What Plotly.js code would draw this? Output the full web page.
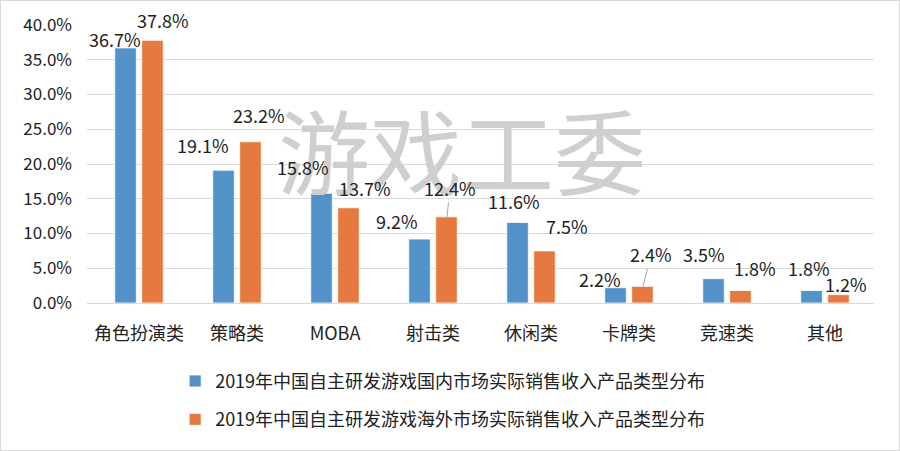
<!DOCTYPE html>
<html>
<head>
<meta charset="utf-8">
<script src="https://cdn.plot.ly/plotly-3.0.1.min.js"></script>
<style>
html,body{margin:0;padding:0;background:#fff;}
#wrap{width:900px;height:451px;box-sizing:border-box;border:1px solid #d9d9d9;}
#chart{width:898px;height:449px;}
</style>
</head>
<body>
<div id="wrap"><div id="chart"></div></div>
<script>
// ---- data ----
const categories = ["角色扮演类","策略类","MOBA","射击类","休闲类","卡牌类","竞速类","其他"];
const domestic = [36.7, 19.1, 15.8, 9.2, 11.6, 2.2, 3.5, 1.8];
const overseas = [37.8, 23.2, 13.7, 12.4, 7.5, 2.4, 1.8, 1.2];
const seriesNames = [
  "2019年中国自主研发游戏国内市场实际销售收入产品类型分布",
  "2019年中国自主研发游戏海外市场实际销售收入产品类型分布"
];
const watermark = "游戏工委";

// ---- label placement styling (pixel offsets from bar top) ----
const domLabelOffX = [-10, -20, -18, -22, -3, -15, -9, -2];
const domLabelOffY = [-9, -25, -26, -18, -21, -9, -25, -22];
const ovsLabelOffX = [10, 8, 16, 3, 22, 8, 14, 7];
const ovsLabelOffY = [-20, -27, -20, -29, -25, -32, -22, -11];
const ovsLeader = [false, false, false, true, false, true, false, false];

const FONT = '"Noto Sans CJK SC", "Noto Sans", sans-serif';
const TXT = '#222222';
const BLUE = '#5292C8';
const ORANGE = '#E5793F';

const traces = [
  {type:'bar', name:seriesNames[0], x:categories, y:domestic,
   marker:{color:BLUE, line:{color:'#ffffff', width:0.8}}, legendgroup:'a', hoverinfo:'skip'},
  {type:'bar', name:seriesNames[1], x:categories, y:overseas,
   marker:{color:ORANGE, line:{color:'#ffffff', width:0.8}}, legendgroup:'b', hoverinfo:'skip'}
];

const annotations = [];
function addLabels(vals, offX, offY, shift, leader){
  vals.forEach((v,i)=>{
    const lead = leader && leader[i];
    annotations.push({
      xref:'x', yref:'y', x:categories[i], y:v, xshift:shift,
      text:v.toFixed(1)+'%', showarrow:true, arrowhead:0, arrowwidth:1,
      arrowcolor: lead ? '#a6a6a6' : 'rgba(0,0,0,0)', standoff:0,
      axref:'pixel', ayref:'pixel', ax:offX[i], ay:offY[i],
      font:{family:FONT, size:18, color:TXT}
    });
  });
}
addLabels(domestic, domLabelOffX, domLabelOffY, -14, null);
addLabels(overseas, ovsLabelOffX, ovsLabelOffY, 14, ovsLeader);

annotations.unshift({
  xref:'paper', yref:'paper', x:0.477, y:0.56, xanchor:'center', yanchor:'middle',
  text:watermark, showarrow:false,
  font:{family:FONT, size:92, color:'#cfcfcf'}
});

const layout = {
  width:898, height:449,
  margin:{l:86, r:25, t:24, b:144},
  paper_bgcolor:'#ffffff', plot_bgcolor:'#ffffff',
  font:{family:FONT, size:17, color:TXT},
  barmode:'group', bargap:0.45, bargroupgap:0.2,
  showlegend:true,
  legend:{orientation:'v', x:0.112, xanchor:'left', y:-0.215, yanchor:'top',
          font:{family:FONT, size:18, color:TXT}, itemwidth:30,
          traceorder:'grouped', tracegroupgap:12, bgcolor:'rgba(0,0,0,0)'},
  xaxis:{type:'category', showgrid:false, showline:true, linecolor:'#d9d9d9', linewidth:1,
         ticks:'', ticklabelstandoff:14, tickfont:{family:FONT, size:18, color:TXT}, fixedrange:true},
  yaxis:{range:[0,40], dtick:5, tickformat:'.1f', ticksuffix:'%', showgrid:true,
         gridcolor:'#d9d9d9', gridwidth:1, zeroline:false, showline:false, ticks:'',
         ticklabelstandoff:14, tickfont:{family:FONT, size:17, color:TXT}, fixedrange:true},
  annotations:annotations
};

Plotly.newPlot('chart', traces, layout, {displayModeBar:false, staticPlot:true});
</script>
</body>
</html>
